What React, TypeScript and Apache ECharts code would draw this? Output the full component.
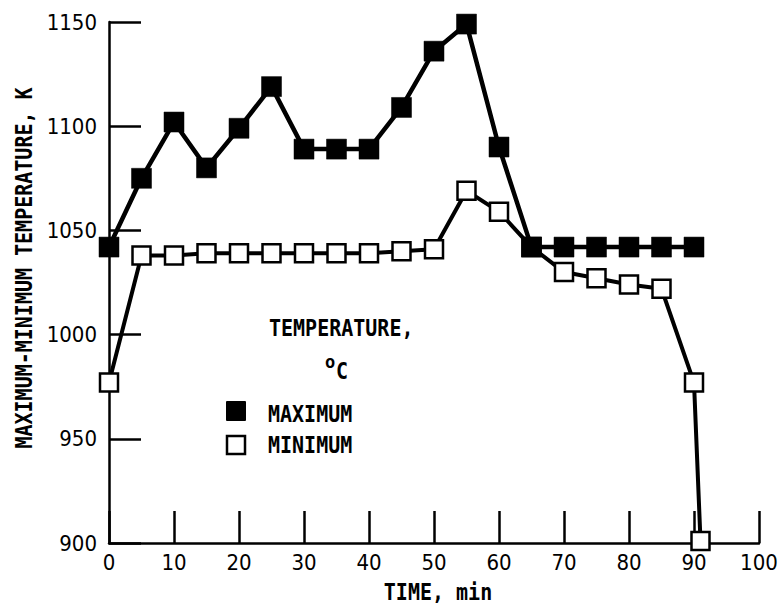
import React, { useEffect, useRef } from "react";
import * as echarts from "echarts";

const timeMax: number[] = [0, 5, 10, 15, 20, 25, 30, 35, 40, 45, 50, 55, 60, 65, 70, 75, 80, 85, 90];
const tempMax: number[] = [1042, 1075, 1102, 1080, 1099, 1119, 1089, 1089, 1089, 1109, 1136, 1149, 1090, 1042, 1042, 1042, 1042, 1042, 1042];
const timeMin: number[] = [0, 5, 10, 15, 20, 25, 30, 35, 40, 45, 50, 55, 60, 65, 70, 75, 80, 85, 90, 91];
const tempMin: number[] = [977, 1038, 1038, 1039, 1039, 1039, 1039, 1039, 1039, 1040, 1041, 1069, 1059, 1042, 1030, 1027, 1024, 1022, 977, 901];

const xTicks = { min: 0, max: 100, interval: 10 };
const yTicks = { min: 900, max: 1150, interval: 50 };

const seriesNames = ["MAXIMUM", "MINIMUM"];
const legendTitle = "TEMPERATURE,";
const xTitle = "TIME, min";
const yTitle = "MAXIMUM-MINIMUM TEMPERATURE, K";

const MONO = "'DejaVu Sans Mono', monospace";
const NUM = "'DejaVu Sans Condensed', 'DejaVu Sans', sans-serif";

export default function App() {
  const ref = useRef<HTMLDivElement>(null);
  useEffect(() => {
    if (!ref.current) return;
    const chart = echarts.init(ref.current, null, { renderer: "svg" });
    const maxData = timeMax.map((t, i) => [t, tempMax[i]]);
    const minData = timeMin.map((t, i) => [t, tempMin[i]]);
    const txt = (text: string, x: number, y: number, align: string, extra: any = {}) => ({
      type: "text",
      x,
      y,
      scaleY: 1.15,
      ...extra,
      style: { text, font: `bold 20px ${MONO}`, fill: "#000", align, verticalAlign: "middle" },
    });
    chart.setOption({
      animation: false,
      backgroundColor: "#fff",
      grid: { left: 109, right: 22, top: 22, bottom: 66, containLabel: false },
      xAxis: {
        type: "value",
        min: xTicks.min,
        max: xTicks.max,
        interval: xTicks.interval,
        splitLine: { show: false },
        axisLine: { show: true, onZero: false, lineStyle: { color: "#000", width: 2.5 } },
        axisTick: { show: true, inside: true, length: 32, lineStyle: { color: "#000", width: 2.5 } },
        axisLabel: { color: "#000", fontFamily: NUM, fontSize: 22, margin: 8, formatter: (v: number) => String(v) },
      },
      yAxis: {
        type: "value",
        min: yTicks.min,
        max: yTicks.max,
        interval: yTicks.interval,
        splitLine: { show: false },
        axisLine: { show: true, onZero: false, lineStyle: { color: "#000", width: 2.5 } },
        axisTick: { show: true, inside: true, length: 32, lineStyle: { color: "#000", width: 2.5 } },
        axisLabel: { color: "#000", fontFamily: NUM, fontSize: 22, margin: 12, formatter: (v: number) => String(v) },
      },
      series: [
        {
          name: seriesNames[1],
          type: "line",
          data: minData,
          symbol: "rect",
          symbolSize: 18,
          lineStyle: { color: "#000", width: 4 },
          itemStyle: { color: "#fff", borderColor: "#000", borderWidth: 2.5 },
          z: 2,
        },
        {
          name: seriesNames[0],
          type: "line",
          data: maxData,
          symbol: "rect",
          symbolSize: 20,
          lineStyle: { color: "#000", width: 4.5 },
          itemStyle: { color: "#000", borderColor: "#000", borderWidth: 0.5 },
          z: 3,
        },
      ],
      graphic: [
        txt(yTitle, 24, 268, "center", { rotation: Math.PI / 2 }),
        txt(xTitle, 438, 592, "center"),
        txt(legendTitle, 269, 328, "left"),
        {
          type: "text",
          x: 330,
          y: 362,
          style: { text: "o", font: `bold 17px ${MONO}`, fill: "#000", align: "center", verticalAlign: "middle" },
        },
        {
          type: "text",
          x: 342,
          y: 371,
          scaleY: 1.15,
          style: { text: "C", font: `bold 20px ${MONO}`, fill: "#000", align: "center", verticalAlign: "middle" },
        },
        {
          type: "rect",
          shape: { x: 226, y: 401, width: 20, height: 20, r: 1 },
          style: { fill: "#000" },
        },
        txt(seriesNames[0], 268, 414, "left"),
        {
          type: "rect",
          shape: { x: 227, y: 436, width: 18, height: 18 },
          style: { fill: "#fff", stroke: "#000", lineWidth: 2.5 },
        },
        txt(seriesNames[1], 268, 445, "left"),
      ],
    });
    return () => chart.dispose();
  }, []);
  return <div ref={ref} style={{ width: 781, height: 609, position: "absolute", left: 0, top: 0 }} />;
}
